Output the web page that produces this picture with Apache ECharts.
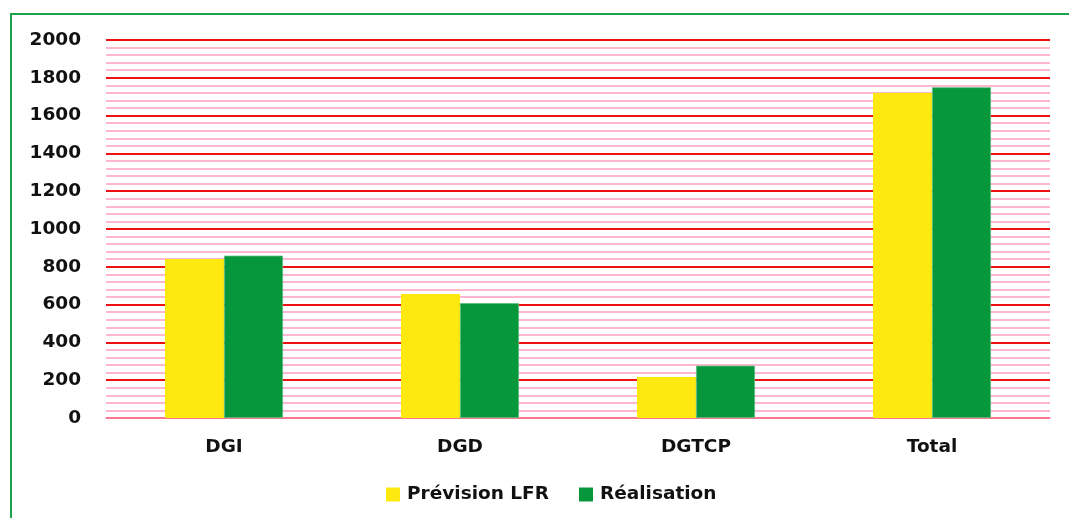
<!DOCTYPE html>
<html><head><meta charset="utf-8">
<script src="https://cdn.jsdelivr.net/npm/echarts@6/dist/echarts.min.js"></script>
<style>html,body{margin:0;padding:0;background:#fff}#c{width:1069px;height:518px}</style>
</head><body><div id="c"></div>
<script>
const categories = ['DGI', 'DGD', 'DGTCP', 'Total'];
const previsionLFR = [841, 656, 217, 1720];
const realisation = [859, 608, 277, 1750];
const seriesNames = ['Prévision LFR', 'Réalisation'];

const chart = echarts.init(document.getElementById('c'));
const font = '"DejaVu Sans", sans-serif';
chart.setOption({
  animation: false,
  graphic: [{type: 'rect', shape: {x: 11, y: 14, width: 1070, height: 520}, style: {fill: 'none', stroke: '#1fa04a', lineWidth: 2}}],
  grid: {left: 106, right: 19, top: 40, bottom: 100, containLabel: false},
  legend: {
    data: seriesNames, bottom: 9, left: 381, itemWidth: 14, itemHeight: 14, itemGap: 30,
    icon: 'rect',
    itemStyle: {borderWidth: 0},
    textStyle: {fontFamily: font, fontWeight: 'bold', fontSize: 18.5, color: '#111', padding: [0, 0, 0, 2]}
  },
  xAxis: {
    type: 'category', data: categories,
    axisLine: {show: true, lineStyle: {color: '#ff99bb', width: 1.5}},
    axisTick: {show: false},
    axisLabel: {fontFamily: font, fontWeight: 'bold', fontSize: 18.5, color: '#111', margin: 20}
  },
  yAxis: {
    type: 'value', min: 0, max: 2000, interval: 200,
    axisLine: {show: false}, axisTick: {show: false},
    axisLabel: {fontFamily: font, fontWeight: 'bold', fontSize: 18.5, color: '#111', margin: 25,
      formatter: v => String(v)},
    splitLine: {show: true, lineStyle: {color: '#ee1111', width: 2}},
    minorTick: {show: false, splitNumber: 5},
    minorSplitLine: {show: true, lineStyle: {color: '#ff9fc0', width: 1.5}}
  },
  series: [
    {name: seriesNames[0], type: 'bar', data: previsionLFR, barGap: '0%', barCategoryGap: '50%',
     itemStyle: {color: '#fde910'}},
    {name: seriesNames[1], type: 'bar', data: realisation,
     itemStyle: {color: '#06963c', borderColor: '#5cbf7f', borderWidth: 0.8}}
  ]
});
</script></body></html>
